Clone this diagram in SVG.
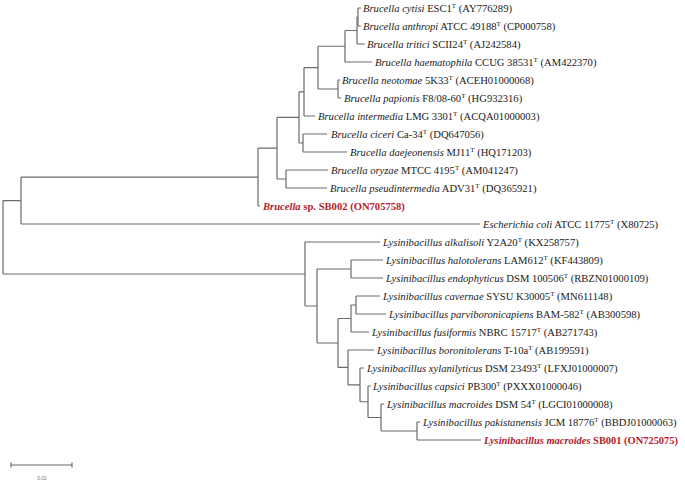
<svg xmlns="http://www.w3.org/2000/svg" width="685" height="483" viewBox="0 0 685 483">
<style>
.br{fill:none;stroke:#6b6b6b;stroke-width:1.2}
.lb{font-family:"Liberation Serif","Times New Roman",serif;font-size:10.6px;fill:#1a1a1a}
.sp{font-style:italic}
.sup{font-size:7px}
.red{fill:#b3202a;font-weight:bold}
.sc{font-family:"Liberation Sans",Arial,sans-serif;font-size:5px;fill:#777}
</style>
<rect width="685" height="483" fill="#ffffff"/>
<g id="connectors" class="br">
<path d="M3 200.6V274M3 200.6H21M3 274H305"/>
<path d="M21 177.1V224M21 177.1H258M21 224H480"/>
<path d="M258 148.2V206M258 148.2H277M258 206H260"/>
<path d="M277 117.4V179M277 117.4H299M277 179H286"/>
<path d="M286 170V188M286 170H328M286 188H327"/>
<path d="M299 91.8V143M299 91.8H304M299 143H303"/>
<path d="M303 134V152M303 134H327M303 152H347"/>
<path d="M304 67.6V116M304 67.6H318M304 116H315"/>
<path d="M318 46.25V89M318 46.25H345M318 89H338"/>
<path d="M338 80V98M338 80H340M338 98H341"/>
<path d="M345 30.5V62M345 30.5H357M345 62H372"/>
<path d="M357 17V44M357 17H358M357 44H365"/>
<path d="M358 8V26M358 8H361M358 26H361"/>
<path d="M305 242V306M305 242H380M305 306H317"/>
<path d="M317 269V343M317 269H351M317 343H338"/>
<path d="M351 260V278M351 260H383M351 278H383"/>
<path d="M338 318.5V367.4M338 318.5H351M338 367.4H348"/>
<path d="M351 305V332M351 305H356M351 332H369"/>
<path d="M356 296V314M356 296H380M356 314H386"/>
<path d="M348 350V384.9M348 350H374M348 384.9H360"/>
<path d="M360 368V401.75M360 368H364M360 401.75H368"/>
<path d="M368 386V417.5M368 386H371M368 417.5H381"/>
<path d="M381 404V431M381 404H384M381 431H417"/>
<path d="M417 422V440M417 422H420M417 440H481"/>
</g>
<g id="leaf-cytisi"><text class="lb" x="363" y="12"><tspan class="sp">Brucella cytisi</tspan> ESC1<tspan class="sup" dy="-4">T</tspan><tspan dy="4"> (AY776289)</tspan></text></g>
<g id="leaf-anthropi"><text class="lb" x="363" y="30"><tspan class="sp">Brucella anthropi</tspan> ATCC 49188<tspan class="sup" dy="-4">T</tspan><tspan dy="4"> (CP000758)</tspan></text></g>
<g id="leaf-tritici"><text class="lb" x="367" y="48"><tspan class="sp">Brucella tritici</tspan> SCII24<tspan class="sup" dy="-4">T</tspan><tspan dy="4"> (AJ242584)</tspan></text></g>
<g id="leaf-haematophila"><text class="lb" x="375" y="66"><tspan class="sp">Brucella haematophila</tspan> CCUG 38531<tspan class="sup" dy="-4">T</tspan><tspan dy="4"> (AM422370)</tspan></text></g>
<g id="leaf-neotomae"><text class="lb" x="342" y="84"><tspan class="sp">Brucella neotomae</tspan> 5K33<tspan class="sup" dy="-4">T</tspan><tspan dy="4"> (ACEH01000068)</tspan></text></g>
<g id="leaf-papionis"><text class="lb" x="344" y="102"><tspan class="sp">Brucella papionis</tspan> F8/08-60<tspan class="sup" dy="-4">T</tspan><tspan dy="4"> (HG932316)</tspan></text></g>
<g id="leaf-intermedia"><text class="lb" x="318" y="120"><tspan class="sp">Brucella intermedia</tspan> LMG 3301<tspan class="sup" dy="-4">T</tspan><tspan dy="4"> (ACQA01000003)</tspan></text></g>
<g id="leaf-ciceri"><text class="lb" x="331" y="138"><tspan class="sp">Brucella ciceri</tspan> Ca-34<tspan class="sup" dy="-4">T</tspan><tspan dy="4"> (DQ647056)</tspan></text></g>
<g id="leaf-daejeonensis"><text class="lb" x="350" y="156"><tspan class="sp">Brucella daejeonensis</tspan> MJ11<tspan class="sup" dy="-4">T</tspan><tspan dy="4"> (HQ171203)</tspan></text></g>
<g id="leaf-oryzae"><text class="lb" x="331" y="174"><tspan class="sp">Brucella oryzae</tspan> MTCC 4195<tspan class="sup" dy="-4">T</tspan><tspan dy="4"> (AM041247)</tspan></text></g>
<g id="leaf-pseudintermedia"><text class="lb" x="330" y="192"><tspan class="sp">Brucella pseudintermedia</tspan> ADV31<tspan class="sup" dy="-4">T</tspan><tspan dy="4"> (DQ365921)</tspan></text></g>
<g id="leaf-sb002"><text class="lb red" x="263" y="210"><tspan class="sp">Brucella</tspan> sp. SB002 (ON705758)</text></g>
<g id="leaf-ecoli"><text class="lb" x="483" y="228"><tspan class="sp">Escherichia coli</tspan> ATCC 11775<tspan class="sup" dy="-4">T</tspan><tspan dy="4"> (X80725)</tspan></text></g>
<g id="leaf-alkalisoli"><text class="lb" x="383" y="246"><tspan class="sp">Lysinibacillus alkalisoli</tspan> Y2A20<tspan class="sup" dy="-4">T</tspan><tspan dy="4"> (KX258757)</tspan></text></g>
<g id="leaf-halotolerans"><text class="lb" x="386" y="264"><tspan class="sp">Lysinibacillus halotolerans</tspan> LAM612<tspan class="sup" dy="-4">T</tspan><tspan dy="4"> (KF443809)</tspan></text></g>
<g id="leaf-endophyticus"><text class="lb" x="386" y="282"><tspan class="sp">Lysinibacillus endophyticus</tspan> DSM 100506<tspan class="sup" dy="-4">T</tspan><tspan dy="4"> (RBZN01000109)</tspan></text></g>
<g id="leaf-cavernae"><text class="lb" x="383" y="300"><tspan class="sp">Lysinibacillus cavernae</tspan> SYSU K30005<tspan class="sup" dy="-4">T</tspan><tspan dy="4"> (MN611148)</tspan></text></g>
<g id="leaf-parviboronicapiens"><text class="lb" x="389" y="318"><tspan class="sp">Lysinibacillus parviboronicapiens</tspan> BAM-582<tspan class="sup" dy="-4">T</tspan><tspan dy="4"> (AB300598)</tspan></text></g>
<g id="leaf-fusiformis"><text class="lb" x="372" y="336"><tspan class="sp">Lysinibacillus fusiformis</tspan> NBRC 15717<tspan class="sup" dy="-4">T</tspan><tspan dy="4"> (AB271743)</tspan></text></g>
<g id="leaf-boronitolerans"><text class="lb" x="377" y="354"><tspan class="sp">Lysinibacillus boronitolerans</tspan> T-10a<tspan class="sup" dy="-4">T</tspan><tspan dy="4"> (AB199591)</tspan></text></g>
<g id="leaf-xylanilyticus"><text class="lb" x="367" y="372"><tspan class="sp">Lysinibacillus xylanilyticus</tspan> DSM 23493<tspan class="sup" dy="-4">T</tspan><tspan dy="4"> (LFXJ01000007)</tspan></text></g>
<g id="leaf-capsici"><text class="lb" x="373" y="390"><tspan class="sp">Lysinibacillus capsici</tspan> PB300<tspan class="sup" dy="-4">T</tspan><tspan dy="4"> (PXXX01000046)</tspan></text></g>
<g id="leaf-macroides"><text class="lb" x="387" y="408"><tspan class="sp">Lysinibacillus macroides</tspan> DSM 54<tspan class="sup" dy="-4">T</tspan><tspan dy="4"> (LGCI01000008)</tspan></text></g>
<g id="leaf-pakistanensis"><text class="lb" x="423" y="426"><tspan class="sp">Lysinibacillus pakistanensis</tspan> JCM 18776<tspan class="sup" dy="-4">T</tspan><tspan dy="4"> (BBDJ01000063)</tspan></text></g>
<g id="leaf-sb001"><text class="lb red" x="484" y="444" textLength="194" lengthAdjust="spacingAndGlyphs"><tspan class="sp">Lysinibacillus macroides</tspan> SB001 (ON725075)</text></g>
<g id="scale-bar">
<path class="br" d="M11 465H72M11 462.5V467.5M72 462.5V467.5"/>
<text class="sc" x="42" y="480" text-anchor="middle">0.02</text>
</g>
</svg>
